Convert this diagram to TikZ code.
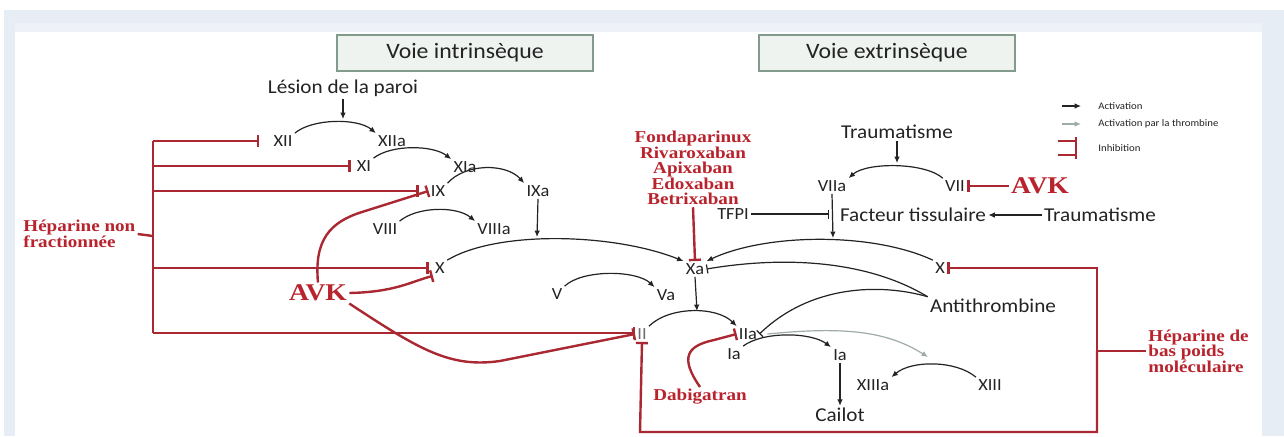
\documentclass[tikz,border=0pt]{standalone}
\usepackage{fontspec}
\usetikzlibrary{arrows.meta}
\newfontfamily\sansf[FakeStretch=1.08]{Carlito}
\newfontfamily\seriff[FakeStretch=1.15]{Liberation Serif}
\definecolor{bgblue}{RGB}{231,237,245}
\definecolor{bgbluelt}{RGB}{238,242,248}
\definecolor{ink}{RGB}{35,35,35}
\definecolor{redl}{RGB}{170,40,50}
\definecolor{redt}{RGB}{185,35,45}
\definecolor{thrgray}{RGB}{160,170,170}
\definecolor{boxfill}{RGB}{238,243,240}
\definecolor{boxdraw}{RGB}{130,155,140}
\definecolor{iigray}{RGB}{110,110,110}
\tikzset{
  lbl/.style={font=\sansf\fontsize{8.5}{9}\selectfont, inner sep=1pt, text=ink},
  midlbl/.style={font=\sansf\fontsize{9.8}{11}\selectfont, inner sep=1pt, text=ink},
  leglbl/.style={font=\sansf\fontsize{5}{6}\selectfont, inner sep=0.5pt, text=ink, anchor=west},
  titlebox/.style={draw=boxdraw, fill=boxfill, line width=0.8pt, minimum width=128pt, minimum height=18pt, font=\sansf\fontsize{11}{12}\selectfont, text=ink},
  drug/.style={font=\seriff\bfseries\fontsize{8.3}{7.75}\selectfont, text=redt, align=center, inner sep=1pt},
  avk/.style={font=\seriff\bfseries\fontsize{12}{12}\selectfont, text=redt, inner sep=1pt},
  act/.style={draw=ink, line width=0.6pt, -{Latex[length=3.2pt,width=2.8pt]}},
  thract/.style={draw=thrgray, line width=0.6pt, -{Latex[length=3.2pt,width=2.8pt]}},
  redline/.style={draw=redl, line width=1.2pt},
  inh/.style={draw=redl, line width=1.2pt, -{Bar[width=6pt]}},
  inhk/.style={draw=ink, line width=0.6pt, -{Bar[width=4.5pt]}},
}
\begin{document}
\begin{tikzpicture}[x=0.5pt,y=-0.5pt]
\useasboundingbox (0,0) rectangle (1284,436);
\fill[white] (0,0) rectangle (1284,436);
\fill[bgblue] (4,10) rectangle (1284,436);
\fill[bgbluelt] (15,23) rectangle (1262,32);
\fill[white] (15,32) rectangle (1262,436);

% titles
\node[titlebox] (ti) at (465,53) {Voie intrinsèque};
\node[titlebox] (te) at (887,53) {Voie extrinsèque};

% intrinsic pathway nodes
\node[midlbl] (les) at (343,88) {Lésion de la paroi};
\node[lbl] (XII) at (283,141) {XII};
\node[lbl] (XIIa) at (392,141) {XIIa};
\node[lbl] (XI) at (364,166) {XI};
\node[lbl] (XIa) at (465,167) {XIa};
\node[lbl] (IX) at (438,191) {IX};
\node[lbl] (IXa) at (538,191) {IXa};
\node[lbl] (VIII) at (385,229) {VIII};
\node[lbl] (VIIIa) at (494,229) {VIIIa};
\node[lbl] (X) at (440,268) {X};
\node[lbl] (Xa) at (695,269) {Xa};
\node[lbl] (V) at (557,294) {V};
\node[lbl] (Va) at (666,295) {Va};
\node[lbl, text=iigray] (II) at (642,334) {II};
\node[lbl] (IIa) at (748,334) {IIa};
\node[lbl] (Ia1) at (734,354) {Ia};
\node[lbl] (Ia2) at (840,355) {Ia};
\node[midlbl] (cai) at (840,415) {Cailot};
\node[lbl] (XIIIa) at (873,385) {XIIIa};
\node[lbl] (XIII) at (990,385) {XIII};
\coordinate (thr) at (928,357);

% extrinsic pathway nodes
\node[midlbl] (tr1) at (897,132) {Traumatisme};
\node[lbl] (VIIa) at (832,186) {VIIa};
\node[lbl] (VII) at (955,186) {VII};
\node[lbl] (tfpi) at (733,214) {TFPI};
\node[midlbl] (ft) at (913,215) {Facteur tissulaire};
\node[midlbl] (tr2) at (1100,215) {Traumatisme};
\node[lbl] (Xr) at (940,268) {X};
\node[midlbl] (at) at (993,306) {Antithrombine};

% drugs
\node[avk] (avk1) at (318,293) {AVK};
\node[avk] (avk2) at (1040,186) {AVK};
\node[drug] (drugs) at (693,168) {Fondaparinux\\Rivaroxaban\\Apixaban\\Edoxaban\\Betrixaban};
\node[drug] (dab) at (700,397) {Dabigatran};
\node[drug, anchor=west, align=left] (hnf) at (21,234) {Héparine non\\fractionnée};
\node[drug, anchor=west, align=left] (hbpm) at (1146,351) {Héparine de\\bas poids\\moléculaire};

% helper coordinates
\coordinate (cles) at (343,119);
\coordinate (cixa) at (537,237);
\coordinate (cxa) at (697,311);
\coordinate (ctr) at (897,163);
\coordinate (cviia) at (833,238);
\coordinate (ctfpi) at (829,214);

% activation arcs
\draw[act] (XII.north east) .. controls +(18,-15) and +(-18,-15) .. (XIIa.north west);
\draw[act] (XI.north east) .. controls +(18,-14) and +(-18,-14) .. (XIa.north west);
\draw[act] (IX.north east) .. controls +(18,-20) and +(-18,-20) .. (IXa.north west);
\draw[act] (VIII.north east) .. controls +(18,-15) and +(-18,-15) .. (VIIIa.north west);
\draw[act] (X.north east) .. controls +(50,-30) and +(-70,-28) .. (Xa.north west);
\draw[act] (V.north east) .. controls +(18,-17) and +(-18,-17) .. (Va.north west);
\draw[act] (II.north east) .. controls +(20,-20) and +(-20,-20) .. (IIa.north west);
\draw[act] (Ia1.north east) .. controls +(20,-15) and +(-20,-15) .. (Ia2.north west);
\draw[act] (Xr.north west) .. controls +(-60,-28) and +(60,-28) .. (Xa.north east);
\draw[act] (VII.north west) .. controls +(-18,-16) and +(18,-16) .. (VIIa.north east);
\draw[act] (XIII.north west) .. controls +(-20,-17) and +(20,-17) .. (XIIIa.north east);
\draw[thract] ([xshift=4pt]IIa.east) .. controls +(80,-8) and +(-40,-25) .. (thr);

% straight activations
\draw[act] (les.south) -- (cles);
\draw[act] (IXa.south) -- (cixa);
\draw[act] (Xa.south) -- (cxa);
\draw[act] (tr1.south) -- (ctr);
\draw[act] (VIIa.south) -- (cviia);
\draw[act] (Ia2.south) -- (cai.north);
\draw[act] (tr2.west) -- (ft.east);
\draw[inhk] (tfpi.east) -- (ctfpi);

% antithrombine inhibitions
\draw[inhk] (at.north west) .. controls (870,262) and (790,255) .. (Xa.east);
\draw[inhk] (at.north west) .. controls (880,283) and (810,285) .. (IIa.east);

% heparine non fractionnee spine
\coordinate (sp1) at (153,141);
\coordinate (sp2) at (153,166);
\coordinate (sp3) at (153,191);
\coordinate (sph) at (153,236);
\coordinate (sp4) at (153,268);
\coordinate (sp5) at (153,333);
\draw[redline] (sp1) -- (sp5);
\draw[redline] (hnf.east) -- (sph);
\draw[inh, shorten >=6pt] (sp1) -- (XII.west);
\draw[inh, shorten >=2pt] (sp2) -- (XI.west);
\draw[inh, shorten >=5pt] (sp3) -- (IX.west);
\draw[inh, shorten >=2pt] (sp4) -- (X.west);
\draw[inh] (sp5) -- (II.west |- sp5);

% AVK inhibitions
\draw[inh] (avk1.north) .. controls (314,240) and (330,222) .. (362,212) -- (IX.west);
\draw[inh] (avk1.east) .. controls (395,292) and (410,282) .. (X.south west);
\draw[inh] (avk1.south east) .. controls (420,350) and (450,368) .. (500,361) -- (II.west);
\draw[inh] (avk2.west) -- (VII.east);

% direct anti-Xa and anti-IIa
\draw[inh] (drugs.south) -- (Xa.north);
\draw[inh] (dab.north) .. controls (680,358) and (686,346) .. (714,340) -- (IIa.west);

% heparine de bas poids moleculaire
\coordinate (rb) at (1097,351);
\coordinate (rbot) at (1097,432);
\coordinate (lbot) at (640,432);
\draw[redline] (hbpm.west) -- (rb);
\draw[inh] (rb) |- (Xr.east);
\draw[inh] (rb) -- (rbot) -- (lbot) -- (II.south);

% legend
\coordinate (l1a) at (1062,106);
\coordinate (l1b) at (1081,106);
\coordinate (l2a) at (1062,124);
\coordinate (l2b) at (1081,124);
\coordinate (l3a) at (1058,141);
\coordinate (l3b) at (1076,141);
\coordinate (l4a) at (1058,155);
\coordinate (l4b) at (1076,155);
\coordinate (l5a) at (1076,137);
\coordinate (l5b) at (1076,159);
\draw[act] (l1a) -- (l1b);
\draw[thract] (l2a) -- (l2b);
\draw[redline] (l3a) -- (l3b);
\draw[redline] (l4a) -- (l4b);
\draw[redline] (l5a) -- (l5b);
\node[leglbl] (lg1) at (1097,106) {Activation};
\node[leglbl] (lg2) at (1097,124) {Activation par la thrombine};
\node[leglbl] (lg3) at (1097,148) {Inhibition};
\end{tikzpicture}
\end{document}
